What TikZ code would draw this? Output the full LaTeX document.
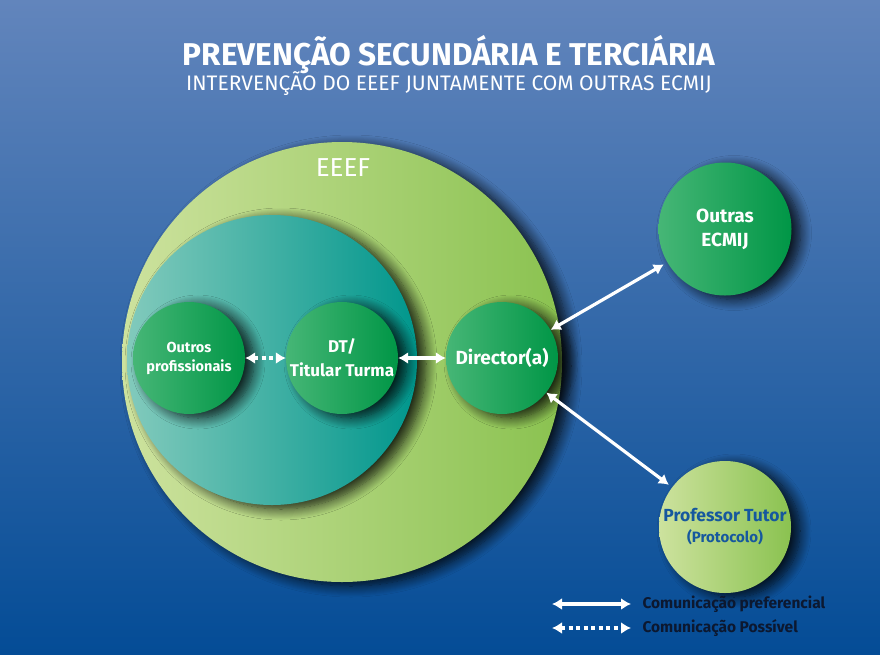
\documentclass[tikz,border=0pt]{standalone}
\usepackage{fontspec}
\setmainfont{Fira Sans}
\usetikzlibrary{arrows.meta,shadows.blur}
\definecolor{98_133_188}{RGB}{98, 133, 188}
\definecolor{4_76_150}{RGB}{4, 76, 150}
\definecolor{205_226_158}{RGB}{205, 226, 158}
\definecolor{138_194_80}{RGB}{138, 194, 80}
\definecolor{130_202_188}{RGB}{130, 202, 188}
\definecolor{0_180_166}{RGB}{0, 180, 166}
\definecolor{0_150_140}{RGB}{0, 150, 140}
\definecolor{70_182_118}{RGB}{70, 182, 118}
\definecolor{0_172_88}{RGB}{0, 172, 88}
\definecolor{0_150_70}{RGB}{0, 150, 70}
\definecolor{22_88_158}{RGB}{22, 88, 158}
\definecolor{12_24_48}{RGB}{12, 24, 48}

\begin{document}
\begin{tikzpicture}[
        x=1pt, y=-1pt,
        every node/.style={text=white, font=\bfseries},
        bubble/.style={
            circle, inner sep=0pt, align=center,
            blur shadow={shadow xshift=9pt, shadow yshift=-4pt,
                shadow blur radius=11pt, shadow blur steps=12,
                shadow opacity=85}
        },
        green bubble/.style={bubble, minimum size=112pt,
            left color=70_182_118, middle color=0_172_88, right color=0_150_70},
        pref/.style={draw=white, line width=3.2pt, {Latex[length=10pt,width=12pt]}-{Latex[length=10pt,width=12pt]}},
        poss/.style={pref, dash pattern=on 4pt off 3.5pt}
    ]

    % fundo
    \useasboundingbox (0,0) rectangle (880,654);
    \shade[top color=98_133_188, bottom color=4_76_150] (0,0) rectangle (880,654);

    % titulo
    \node[font=\bfseries\fontsize{31.5}{36}\selectfont] (title) at (449,55) {PREVENÇÃO SECUNDÁRIA E TERCIÁRIA};
    \node[font=\fontsize{21}{24}\selectfont] (subtitle) at (449,84) {INTERVENÇÃO DO EEEF JUNTAMENTE COM OUTRAS ECMIJ};

    % circulos
    \node[bubble, minimum size=440pt, left color=205_226_158, right color=138_194_80] (eeef) at (342,362) {};
    \node[font=\fontsize{26}{30}\selectfont] (eeeflabel) at (343,168) {EEEF};
    \node[bubble, minimum size=290pt, left color=130_202_188, middle color=0_180_166, right color=0_150_140] (turma) at (272,360) {};

    \node[green bubble, font=\bfseries\fontsize{14.5}{19}\selectfont] (outros) at (189,358) {Outros\\profissionais};
    \node[green bubble, font=\bfseries\fontsize{17}{24}\selectfont] (dt) at (342,358) {DT/\\Titular Turma};
    \node[green bubble, font=\bfseries\fontsize{19}{24}\selectfont] (dir) at (502,358) {Director(a)};
    \node[green bubble, minimum size=133pt, font=\bfseries\fontsize{19}{24}\selectfont] (ecmij) at (725,229) {Outras\\ECMIJ};
    \node[bubble, minimum size=132pt, left color=205_226_158, right color=138_194_80, text=22_88_158,
        font=\bfseries\fontsize{17.5}{21}\selectfont] (tutor) at (725,527) {Professor Tutor\\{\fontsize{15}{21}\selectfont (Protocolo)}};

    % ligacoes
    \draw[poss] (outros) -- (dt);
    \draw[pref] (dt) -- (dir);
    \draw[pref, shorten >=4pt] (dir) -- (ecmij);
    \draw[pref, shorten >=4pt] (dir.-38) -- (tutor);

    % legenda
    \coordinate (leg1a) at (552,604);
    \coordinate (leg1b) at (631,604);
    \coordinate (leg2a) at (552,628);
    \coordinate (leg2b) at (631,628);
    \draw[pref] (leg1a) -- (leg1b);
    \draw[poss] (leg2a) -- (leg2b);
    \node[anchor=west, text=12_24_48, font=\bfseries\fontsize{15.5}{18}\selectfont] (leg1) at (639,604) {Comunicação preferencial};
    \node[anchor=west, text=12_24_48, font=\bfseries\fontsize{15.5}{18}\selectfont] (leg2) at (639,628) {Comunicação Possível};

\end{tikzpicture}
\end{document}
